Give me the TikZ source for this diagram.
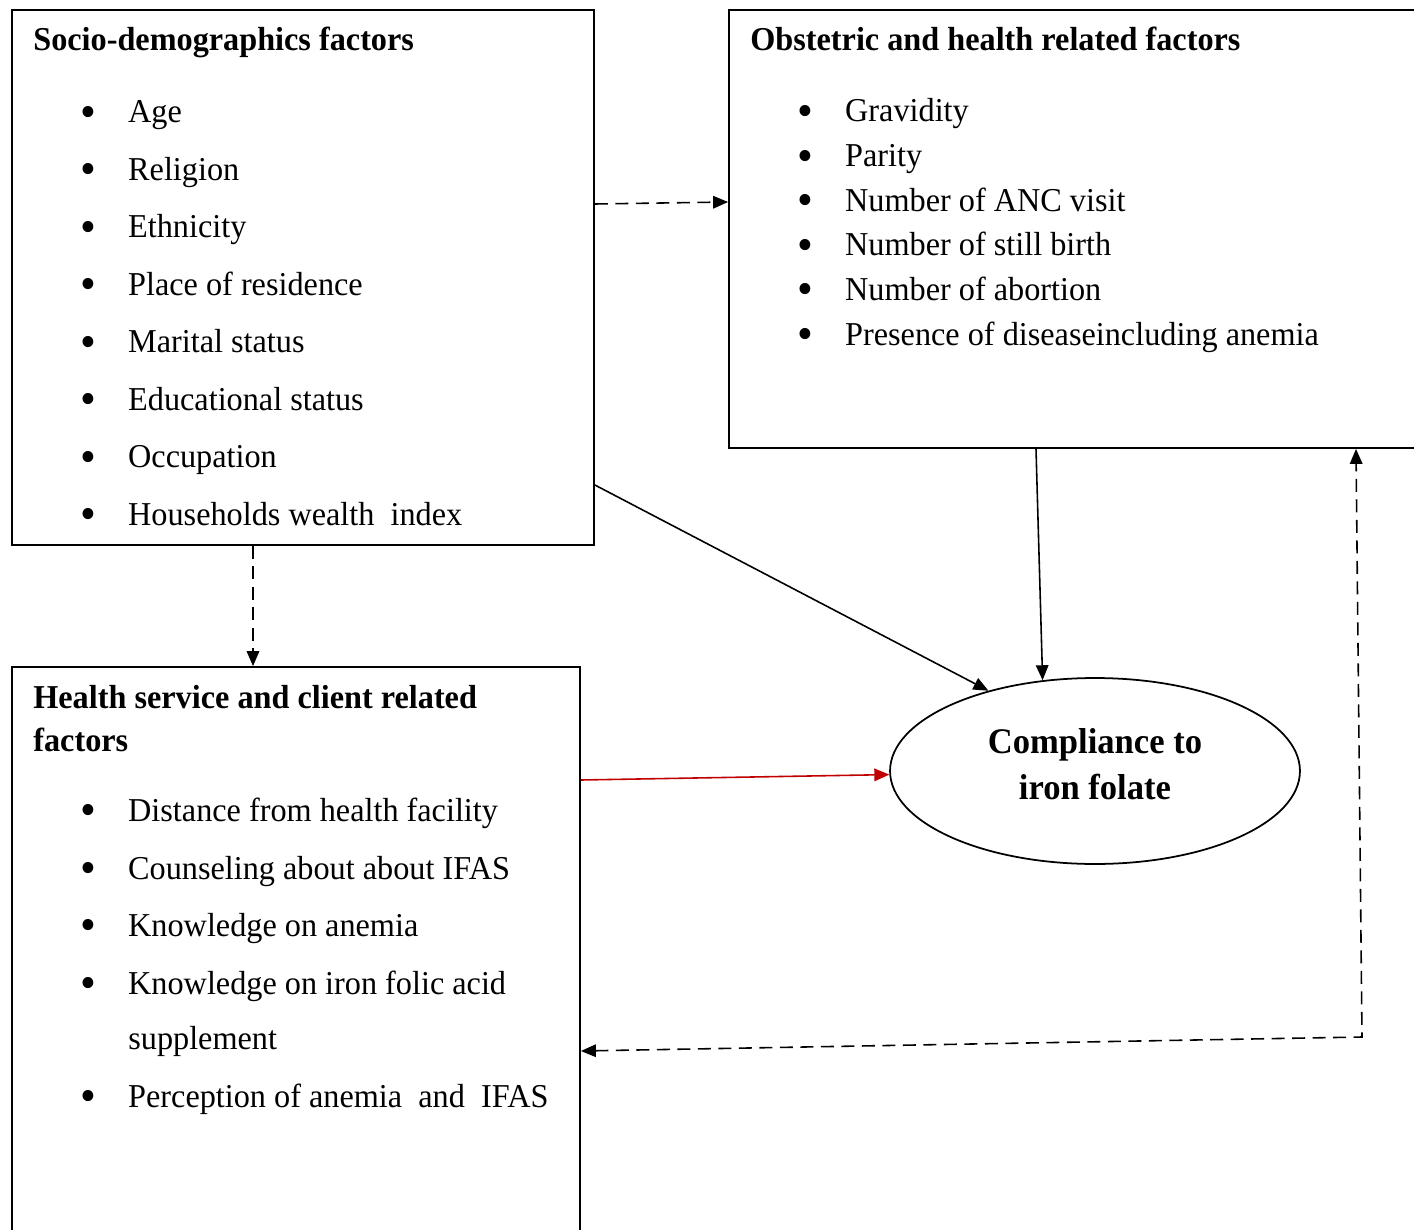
\documentclass[tikz,border=0pt]{standalone}
\usepackage{fontspec}
\usepackage{graphicx}
\setmainfont{Liberation Serif}
\usetikzlibrary{arrows.meta,shapes.geometric,fit}
\definecolor{linkred}{RGB}{192,0,0}
\newcommand{\itembullet}{\makebox[28.2pt][l]{\raisebox{-2.6pt}{\scalebox{1.4}{\textbullet}}}}
\begin{document}
\begin{tikzpicture}%
	[x=0.02cm,
	y=-0.02cm,
	box/.style={draw, line width=1pt, inner sep=0pt},
	txt/.style={anchor=base west, inner sep=0pt, xscale=.966, font=\fontsize{19}{23}\selectfont},
	head/.style={txt, font=\fontsize{19}{23}\selectfont\bfseries},
	ovaltxt/.style={anchor=base, inner sep=0pt, xscale=.96, font=\fontsize{20.5}{25}\selectfont\bfseries},
	link/.style={line width=.9pt, -{Triangle[length=0.3cm,width=0.25cm]}},
	dashlink/.style={link, dash pattern=on 0.26cm off 0.15cm}]
%
\useasboundingbox (0,0) rectangle (1414,1230);
%%
%% Drawing the boxes
%%
\node[box, fit={(12,10) (594,545)}] (soc) {};
\node[box, fit={(729,10) (1420,448)}] (obs) {};
\node[box, fit={(12,667) (580,1236)}] (hs) {};
\node[draw, ellipse, line width=1pt, inner sep=0pt, minimum width=8.2cm, minimum height=3.72cm] (comp) at (1095,771) {};
%%
%% Socio-demographics factors
%%
\node[head] (socT) at (33,51) {Socio-demographics factors};
\node[txt] (soc1) at (80,122.5) {\itembullet Age};
\node[txt] (soc2) at (80,180) {\itembullet Religion};
\node[txt] (soc3) at (80,237.5) {\itembullet Ethnicity};
\node[txt] (soc4) at (80,295) {\itembullet Place of residence};
\node[txt] (soc5) at (80,352.5) {\itembullet Marital status};
\node[txt] (soc6) at (80,410) {\itembullet Educational status};
\node[txt] (soc7) at (80,467.5) {\itembullet Occupation};
\node[txt] (soc8) at (80,525) {\itembullet Households wealth\ \ index};
%%
%% Obstetric and health related factors
%%
\node[head] (obsT) at (750,51) {Obstetric and health related factors};
\node[txt] (obs1) at (797,122) {\itembullet Gravidity};
\node[txt] (obs2) at (797,166.6) {\itembullet Parity};
\node[txt] (obs3) at (797,211.2) {\itembullet Number of ANC visit};
\node[txt] (obs4) at (797,255.8) {\itembullet Number of still birth};
\node[txt] (obs5) at (797,300.4) {\itembullet Number of abortion};
\node[txt] (obs6) at (797,345) {\itembullet Presence of diseaseincluding anemia};
%%
%% Health service and client related factors
%%
\node[head] (hsT) at (33,708) {Health service and client related};
\node[head] (hsT2) at (33,751) {factors};
\node[txt] (hs1) at (80,821) {\itembullet Distance from health facility};
\node[txt] (hs2) at (80,879) {\itembullet Counseling about about IFAS};
\node[txt] (hs3) at (80,936) {\itembullet Knowledge on anemia};
\node[txt] (hs4) at (80,994) {\itembullet Knowledge on iron folic acid};
\node[txt] (hs4b) at (128,1049) {supplement};
\node[txt] (hs5) at (80,1107) {\itembullet Perception of anemia\ \ and\ \ IFAS};
%%
%% Outcome
%%
\node[ovaltxt] (compT) at (1095,753) {Compliance to};
\node[ovaltxt] (compT2) at (1095,799) {iron folate};
%%
%% Drawing the arrows
%%
\coordinate (turn) at (1362,1037);
\draw[dashlink] (soc.east |- 0,204) -- (obs.west |- 0,202);
\draw[dashlink] (soc.south -| 253,0) -- (hs.north -| 253,0);
\draw[link] (soc.east |- 0,485) -- (comp.143);
\draw[link] (obs.south -| 1036,0) -- (comp.120);
\draw[link, color=linkred] (hs.east |- 0,780) -- (comp.181);
\draw[dashlink, {Triangle[length=0.3cm,width=0.25cm]}-{Triangle[length=0.3cm,width=0.25cm]}] (hs.east |- 0,1051) -- (turn) -- (obs.south -| 1356,0);
%%
\end{tikzpicture}
\end{document}
